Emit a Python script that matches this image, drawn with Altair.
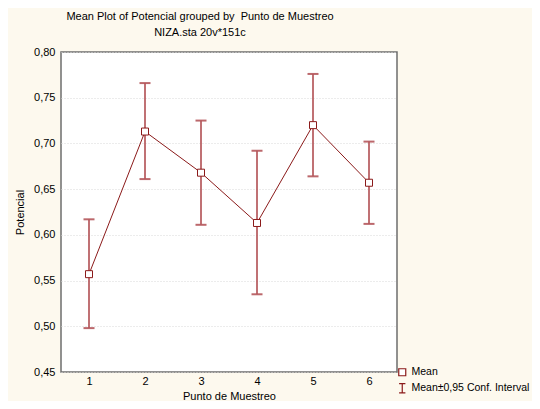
import altair as alt
import pandas as pd

points = [1, 2, 3, 4, 5, 6]
means = [0.557, 0.713, 0.668, 0.613, 0.720, 0.657]
lower = [0.498, 0.661, 0.611, 0.535, 0.664, 0.612]
upper = [0.617, 0.766, 0.725, 0.692, 0.776, 0.702]
y_ticks = [0.45, 0.50, 0.55, 0.60, 0.65, 0.70, 0.75, 0.80]
legend_labels = ["Mean", "Mean\u00b10,95 Conf. Interval"]

df = pd.DataFrame({"Punto": points, "Mean": means, "Lo": lower, "Hi": upper})

FONT = "Liberation Sans"
DARK = "#8b1a1a"
BAR = "#b5585c"

x = alt.X("Punto:Q",
          scale=alt.Scale(domain=[0.5, 6.5], nice=False, zero=False),
          axis=alt.Axis(values=points, format="d", title="Punto de Muestreo",
                        grid=False, ticks=False, labelPadding=3, titlePadding=4,
                        domain=False))
y = alt.Y("Mean:Q",
          scale=alt.Scale(domain=[0.45, 0.80], nice=False, zero=False),
          axis=alt.Axis(values=y_ticks, title="Potencial",
                        labelExpr="replace(format(datum.value, '.2f'), '.', ',')",
                        grid=True, gridColor="#d8d8d8", gridDash=[1, 2],
                        ticks=False, labelPadding=6, titlePadding=8,
                        domain=False))

base = alt.Chart(df)

rules = base.mark_rule(color=BAR, strokeWidth=2, opacity=0.85).encode(
    x=x, y=alt.Y("Lo:Q"), y2="Hi:Q")
cap_lo = base.mark_tick(color=BAR, thickness=2, size=11, orient="horizontal",
                        opacity=0.9).encode(x=x, y=alt.Y("Lo:Q"))
cap_hi = base.mark_tick(color=BAR, thickness=2, size=11, orient="horizontal",
                        opacity=0.9).encode(x=x, y=alt.Y("Hi:Q"))
line = base.mark_line(color=DARK, strokeWidth=1).encode(x=x, y=y)
pts = base.mark_point(shape="square", filled=False, color=DARK, fill="white",
                      fillOpacity=1, strokeWidth=1, size=49, opacity=1).encode(
    x=x, y=y,
    shape=alt.Shape("lab:N",
                    scale=alt.Scale(domain=legend_labels,
                                    range=["square", "M-0.9,-1.3H0.9M0,-1.3V1.3M-0.9,1.3H0.9"]),
                    legend=alt.Legend(title=None, orient="none", legendX=336, legendY=315,
                                      labelFont=FONT, labelFontSize=10.5, labelColor="black",
                                      symbolSize=49, symbolStrokeWidth=1.2,
                                      labelOffset=4, rowPadding=2, labelLimit=300))
).transform_calculate(lab="'Mean'")

chart = alt.layer(rules, cap_lo, cap_hi, line, pts).properties(
    width=336, height=320,
    title=alt.Title(["Mean Plot of Potencial grouped by\u00a0 Punto de Muestreo", "NIZA.sta 20v*151c"],
                    font=FONT, fontSize=11, fontWeight="normal", color="black",
                    anchor="middle", dx=-29, offset=8, lineHeight=16),
    padding={"left": 53, "top": 44, "right": 135, "bottom": 29},
    autosize=alt.AutoSizeParams(type="none"),
    background="#fdf9ee",
).configure_view(fill="white", stroke="#6e6e6e", strokeWidth=1.5).configure_axis(
    labelFont=FONT, labelFontSize=11, labelColor="black",
    titleFont=FONT, titleFontSize=11, titleFontWeight="normal", titleColor="black")

chart.save("out.html", embed_options={"renderer": "svg", "actions": False})
